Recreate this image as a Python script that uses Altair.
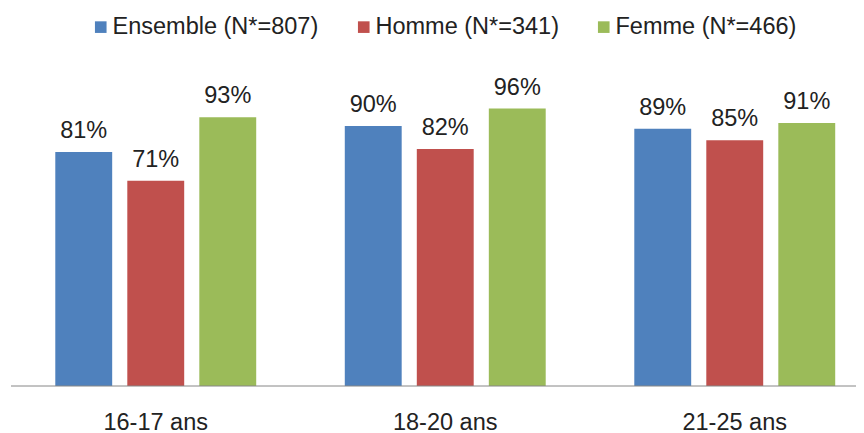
import altair as alt
import pandas as pd

categories = ["16-17 ans", "18-20 ans", "21-25 ans"]
series = ["Ensemble (N*=807)", "Homme (N*=341)", "Femme (N*=466)"]
ensemble = [81, 90, 89]
homme = [71, 82, 85]
femme = [93, 96, 91]
colors = ["#4F81BD", "#C0504D", "#9BBB59"]

rows = []
for s, vals in zip(series, [ensemble, homme, femme]):
    for c, v in zip(categories, vals):
        rows.append({"cat": c, "series": s, "value": v, "label": f"{v}%"})
df = pd.DataFrame(rows)

FONT = "Liberation Sans"
TXT = "#222222"
FS = 23.5

base = alt.Chart(df).encode(
    x=alt.X("cat:N", sort=categories,
            scale=alt.Scale(range=[0, 868.5], paddingInner=0, paddingOuter=0),
            axis=alt.Axis(title=None, domain=False, ticks=False, grid=False, labelAngle=0,
                          labelFontSize=FS, labelFont=FONT, labelColor=TXT,
                          labelPadding=43, labelBaseline="alphabetic")),
    xOffset=alt.XOffset("series:N", sort=series,
                        scale=alt.Scale(paddingInner=0.21, paddingOuter=0.615)),
    y=alt.Y("value:Q", scale=alt.Scale(domain=[0, 100]), axis=None),
)

bars = base.mark_bar().encode(
    color=alt.Color("series:N", sort=series,
                    scale=alt.Scale(domain=series, range=colors),
                    legend=alt.Legend(title=None, orient="none", legendX=78, legendY=-82,
                                      direction="horizontal", columns=3,
                                      symbolType="square", symbolSize=135, symbolStrokeWidth=0,
                                      labelFontSize=FS, labelFont=FONT, labelColor=TXT,
                                      labelOffset=0, columnPadding=33, padding=0,
                                      labelLimit=400))
)

text = base.mark_text(dy=-14, baseline="alphabetic", fontSize=FS, font=FONT, color=TXT).encode(
    text="label:N"
)

rule = alt.Chart(pd.DataFrame({"a": [0]})).mark_rule(color="#868686", strokeWidth=1).encode(
    x=alt.value(0), x2=alt.value(860), y=alt.value(289)
)

chart = alt.layer(bars, text, rule).properties(
    width=845, height=289,
    autosize=alt.AutoSizeParams(type="none"),
    padding={"left": 3, "top": 89, "right": 0, "bottom": 47},
).configure_view(stroke=None)

chart.save("out.html", embed_options={"renderer": "svg", "actions": False})
